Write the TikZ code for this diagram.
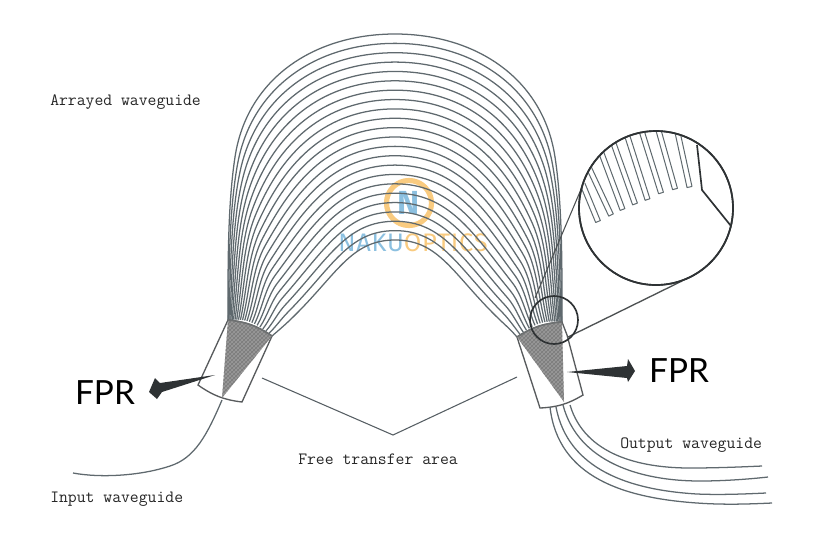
\documentclass[tikz,border=0pt]{standalone}
\usepackage{fontspec}
\newfontfamily\fprfont{Lato}
\newfontfamily\logofont{Fira Sans}
\usetikzlibrary{calc}
\definecolor{wg}{HTML}{5F696E}
\definecolor{dk}{HTML}{2E3234}
\definecolor{hatch}{HTML}{979797}
\definecolor{lblue}{HTML}{8CC0E0}
\definecolor{lorange}{HTML}{F9CB80}
\tikzset{
  guide/.style={draw=wg,line width=.95pt},
  outline/.style={draw=dk!80!white,line width=1pt},
  lens/.style={draw=dk,line width=1.25pt},
  leader/.style={draw=wg!90!black,line width=.8pt},
  blackarrow/.style={fill=dk,draw=none},
  lbl/.style={font=\ttfamily\fontsize{12.9}{14}\selectfont,text=black!85,inner sep=0pt,anchor=west},
  fpr/.style={font=\fprfont\fontsize{25}{28}\selectfont,text=black,inner sep=0pt}
}
\begin{document}
\begin{tikzpicture}[x=.75pt,y=-.75pt]
\useasboundingbox (0,0) rectangle (830,558);
% logo
\draw[lorange,line width=3.9pt] (409,203) circle (22.5);
\node[font=\logofont\bfseries\fontsize{25}{25}\selectfont,text=lblue,inner sep=0pt] (logoN) at (409,203) {N};
\node[font=\logofont\fontsize{19}{20}\selectfont,inner sep=0pt,anchor=west] (logoT) at (338,242.5) {\addfontfeature{LetterSpace=3}\textcolor{lblue}{NAKU}\textcolor{lorange}{OPTICS}};
% arrayed waveguides
\foreach \i in {0,...,22}{
  \pgfmathsetmacro{\t}{\i/22}
  \pgfmathsetmacro{\ta}{\t^1.6}
  \pgfmathsetmacro{\tb}{\t^1.25}
  \pgfmathsetmacro{\xa}{228+44*\ta}
  \pgfmathsetmacro{\ya}{320+16*\ta-6*sin(180*\ta)}
  \pgfmathsetmacro{\xr}{562-45*\ta}
  \pgfmathsetmacro{\yr}{322+15*\ta-6*sin(180*\ta)}
  \pgfmathsetmacro{\xb}{228+51*\tb}
  \pgfmathsetmacro{\yb}{265+65*\tb}
  \pgfmathsetmacro{\xs}{235+55*\t}
  \pgfmathsetmacro{\ys}{157+163*\t}
  \pgfmathsetmacro{\dx}{.15+.57*\t}
  \pgfmathsetmacro{\dy}{.99-.30*\t}
  \pgfmathsetmacro{\hi}{49-42*\t}
  \pgfmathsetmacro{\ho}{80-15*\t}
  \pgfmathsetmacro{\xc}{\xs-\hi*\dx}
  \pgfmathsetmacro{\yc}{\ys+\hi*\dy}
  \pgfmathsetmacro{\xd}{\xs+\ho*\dx}
  \pgfmathsetmacro{\yd}{\ys-\ho*\dy}
  \pgfmathsetmacro{\xe}{315+35*\t}
  \pgfmathsetmacro{\yt}{34+206*\t}
  \pgfmathsetmacro{\mb}{790-\xb}
  \pgfmathsetmacro{\mc}{790-\xc}
  \pgfmathsetmacro{\ms}{790-\xs}
  \pgfmathsetmacro{\md}{790-\xd}
  \pgfmathsetmacro{\me}{790-\xe}
  \draw[guide] (\xa,\ya) .. controls (\xb,\yb) and (\xc,\yc) .. (\xs,\ys)
     .. controls (\xd,\yd) and (\xe,\yt) .. (395,\yt)
     .. controls (\me,\yt) and (\md,\yd) .. (\ms,\ys)
     .. controls (\mc,\yc) and (\mb,\yb) .. (\xr,\yr);
}
% left FPR
\coordinate (lTL) at (228,320);
\coordinate (lTR) at (272,336);
\coordinate (lBR) at (242,402);
\coordinate (lBL) at (198,385);
\coordinate (lA) at (222,398);
\draw[outline,fill=white] (lTL) to[bend left=14] (lTR) -- (lBR) to[bend left=14] (lBL) -- cycle;
\begin{scope}
  \clip (lTL) to[bend left=14] (lTR) -- (lA) -- cycle;
  \fill[hatch] (190,300) rectangle (290,410);
  \foreach \k in {0,4,...,240}{
    \draw[black!25!hatch,line width=.25pt] (100+\k,300) -- (220+\k,420);
    \draw[black!25!hatch,line width=.25pt] (180+\k,300) -- (60+\k,420);
  }
\end{scope}
\draw[outline,draw=dk!70!white,line width=1.2pt] (lTL) to[bend left=14] (lTR);
% right FPR
\coordinate (rTL) at (517,337);
\coordinate (rTR) at (562,322);
\coordinate (rBR) at (583,395);
\coordinate (rBL) at (540,408);
\coordinate (rA) at (564,402);
\draw[outline,fill=white] (rTL) to[bend left=14] (rTR) -- (567,335) -- (rBR) to[bend left=14] (rBL) -- cycle;
\begin{scope}
  \clip (rTL) to[bend left=14] (rTR) -- (rA) -- cycle;
  \fill[hatch] (510,310) rectangle (575,410);
  \foreach \k in {0,4,...,240}{
    \draw[black!25!hatch,line width=.25pt] (420+\k,310) -- (530+\k,420);
    \draw[black!25!hatch,line width=.25pt] (500+\k,310) -- (390+\k,420);
  }
\end{scope}
\draw[outline,draw=dk!70!white,line width=1.2pt] (rTL) to[bend left=14] (rTR);
% input waveguide
\coordinate (inS) at (222,400);
\coordinate (inE) at (73,473);
\draw[guide] (inS) .. controls (207,435) and (195,458) .. (170,466) .. controls (140,476) and (100,478) .. (inE);
% output waveguides
\draw[guide] (570,405) .. controls (585,455) and (640,468) .. (690,468) .. controls (715,468) and (740,467) .. (762,466);
\draw[guide] (563,405) .. controls (578,462) and (640,481) .. (700,481) .. controls (725,481) and (750,479) .. (768,477);
\draw[guide] (556,407) .. controls (568,470) and (630,490) .. (697,494) .. controls (720,495) and (745,494) .. (766,493);
\draw[guide] (550,407) .. controls (558,478) and (625,498) .. (697,503) .. controls (725,505) and (750,504) .. (772,503);
% free transfer area leaders
\coordinate (fL) at (262,378);
\coordinate (fM) at (393,435);
\coordinate (fR) at (517,377);
\draw[leader] (fL) -- (fM) -- (fR);
% FPR arrows
\fill[blackarrow] (215,375) -- (160,383) -- (155,378) -- (149,392) -- (157,399) -- (162,392) -- cycle;
\fill[blackarrow] (567,372) -- (627,366) -- (628,359) -- (635,371) -- (628,382) -- (627,378) -- cycle;
% lens
\coordinate (sC) at (554,320);
\coordinate (bC) at (656,208);
\draw[leader,draw=dk!85!white] (582,187) -- (535,298);
\draw[leader,draw=dk!85!white,line width=1pt] (682,281) -- (568,337);
\draw[lens] (sC) circle (24);
\draw[lens,fill=white] (bC) circle (77);
\begin{scope}
  \clip (bC) circle (77);
  \foreach \tx/\ty/\bx/\by in {
     582.5/184/598/221.5,
     589/168/611/215,
     601/152/622.5/209.5,
     613/142/635/204,
     626/132/647.5/199.5,
     641/129/661/193,
     657/125/675/189,
     677/130/689.5/187}{
    \coordinate (t) at (\tx,\ty);
    \coordinate (b) at (\bx,\by);
    \draw[draw=wg,line width=.75pt,line join=round]
      ($(t)!1.9pt!90:(b)$) -- ($(b)!1.9pt!-90:(t)$) -- ($(b)!1.9pt!90:(t)$) -- ($(t)!1.9pt!-90:(b)$);
  }
\end{scope}
\draw[lens] (697,145) -- (702,190) -- (731,226);
\draw[lens] (bC) circle (77);
% labels
\node[lbl] (l1) at (50,102) {Arrayed waveguide};
\node[lbl] (l2) at (50,499) {Input waveguide};
\node[lbl] (l3) at (620,445) {Output waveguide};
\node[lbl] (l4) at (298,459) {Free transfer area};
\node[fpr] (f1) at (105,393) {FPR};
\node[fpr] (f2) at (679,371) {FPR};
\end{tikzpicture}
\end{document}
